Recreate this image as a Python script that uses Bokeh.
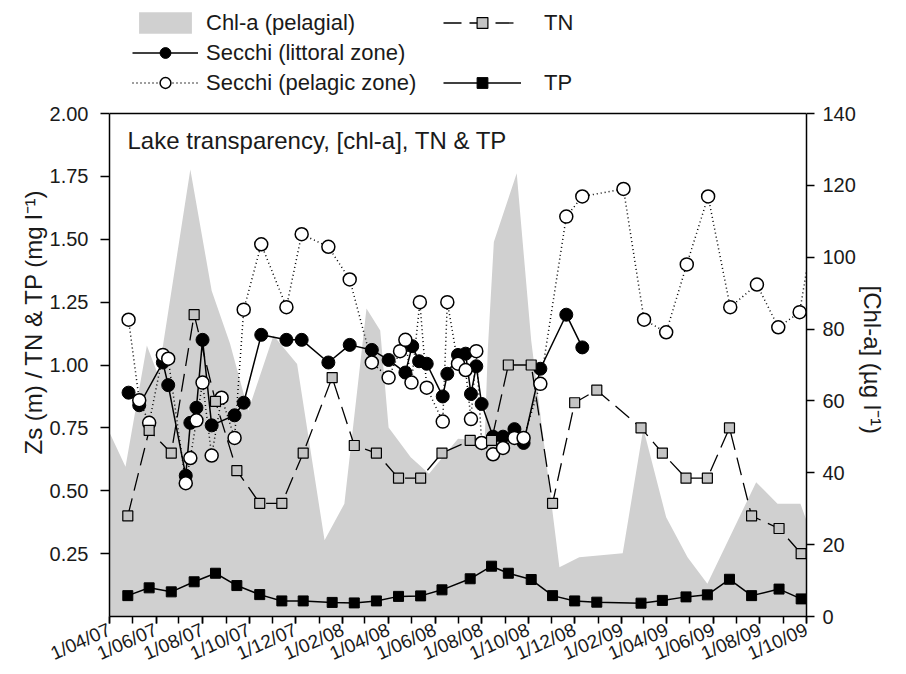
import pandas as pd
from bokeh.plotting import figure
from bokeh.models import (Range1d, LinearAxis, FixedTicker, NumeralTickFormatter,
                          Legend, LegendItem, Label, Span, Title)
from bokeh.embed import file_html
from bokeh.resources import INLINE

FONT = "Liberation Sans"

# ---------------- data ----------------
chl_dates = ["2007-04-01", "2007-04-22", "2007-05-20", "2007-06-04", "2007-07-16", "2007-08-13",
             "2007-09-06", "2007-09-30", "2007-11-02", "2007-12-03", "2008-01-08", "2008-02-03",
             "2008-03-03", "2008-03-21", "2008-04-01", "2008-04-30", "2008-05-24", "2008-07-01",
             "2008-08-05", "2008-08-09", "2008-08-17", "2008-09-16", "2008-10-05", "2008-11-11",
             "2008-12-07", "2009-02-02", "2009-03-01", "2009-03-31", "2009-04-28", "2009-05-24",
             "2009-07-27", "2009-08-24", "2009-09-23", "2009-10-01"]
chl_vals = [51.2, 41.7, 75.4, 67.1, 124.4, 90.7, 76.0, 57.3, 78.2, 70.3, 21.2, 31.4,
            85.7, 79.6, 52.6, 44.3, 39.7, 49.5, 49.0, 74.0, 104.2, 123.4, 76.8, 13.7,
            16.5, 17.6, 52.3, 27.6, 16.5, 9.1, 37.4, 31.4, 31.4, 26.7]

nut_dates = ["2007-04-25", "2007-05-23", "2007-06-21", "2007-07-21", "2007-08-18", "2007-09-15",
             "2007-10-15", "2007-11-13", "2007-12-11", "2008-01-18", "2008-02-16", "2008-03-16",
             "2008-04-14", "2008-05-13", "2008-06-10", "2008-07-17", "2008-08-14", "2008-09-05",
             "2008-10-05", "2008-11-02", "2008-12-01", "2008-12-30", "2009-02-26", "2009-03-26",
             "2009-04-26", "2009-05-24", "2009-06-22", "2009-07-21", "2009-08-26", "2009-09-24"]
tn_vals = [0.40, 0.74, 0.65, 1.20, 0.855, 0.58, 0.45, 0.45, 0.65, 0.95, 0.68, 0.65,
           0.55, 0.55, 0.65, 0.70, 0.70, 1.00, 1.00, 0.45, 0.85, 0.90, 0.75, 0.65,
           0.55, 0.55, 0.75, 0.40, 0.35, 0.25]
tp_vals = [0.083, 0.114, 0.098, 0.138, 0.172, 0.123, 0.087, 0.062, 0.062, 0.056, 0.054, 0.062,
           0.080, 0.082, 0.106, 0.150, 0.200, 0.172, 0.147, 0.083, 0.062, 0.057, 0.053, 0.064,
           0.078, 0.086, 0.148, 0.083, 0.109, 0.070]

lit_dates = ["2007-04-26", "2007-05-10", "2007-06-10", "2007-06-17", "2007-07-10", "2007-07-16",
             "2007-07-24", "2007-08-01", "2007-08-13", "2007-09-12", "2007-09-24", "2007-10-17",
             "2007-11-19", "2007-12-09", "2008-01-13", "2008-02-10", "2008-03-10", "2008-04-01",
             "2008-04-23", "2008-05-02", "2008-05-11", "2008-05-21", "2008-06-11", "2008-06-17",
             "2008-07-01", "2008-07-11", "2008-07-18", "2008-07-25", "2008-08-01", "2008-08-16",
             "2008-08-29", "2008-09-13", "2008-09-25", "2008-10-17", "2008-11-20", "2008-12-11"]
lit_vals = [0.89, 0.84, 1.01, 0.92, 0.56, 0.77, 0.83, 1.10, 0.76, 0.80, 0.85, 1.12,
            1.10, 1.10, 1.01, 1.08, 1.06, 1.02, 0.97, 1.075, 1.015, 1.005, 0.875, 0.965,
            1.04, 1.045, 0.885, 0.995, 0.845, 0.715, 0.715, 0.745, 0.69, 0.985, 1.20, 1.07]

pel_dates = ["2007-04-26", "2007-05-10", "2007-05-23", "2007-06-10", "2007-06-17", "2007-07-10",
             "2007-07-16", "2007-07-24", "2007-08-01", "2007-08-13", "2007-08-26", "2007-09-12",
             "2007-09-24", "2007-10-17", "2007-11-19", "2007-12-09", "2008-01-13", "2008-02-10",
             "2008-03-10", "2008-04-01", "2008-04-16", "2008-04-23", "2008-05-01", "2008-05-12",
             "2008-05-21", "2008-06-11", "2008-06-17", "2008-07-01", "2008-07-11", "2008-07-18",
             "2008-07-25", "2008-08-01", "2008-08-16", "2008-08-29", "2008-09-13", "2008-09-25",
             "2008-10-17", "2008-11-20", "2008-12-11", "2009-02-03", "2009-03-02", "2009-03-31",
             "2009-04-27", "2009-05-25", "2009-06-23", "2009-07-28", "2009-08-25", "2009-09-22",
             "2009-10-20"]
pel_vals = [1.18, 0.86, 0.77, 1.04, 1.025, 0.53, 0.63, 0.78, 0.93, 0.64, 0.87, 0.71,
            1.22, 1.48, 1.23, 1.52, 1.47, 1.34, 1.01, 0.95, 1.055, 1.10, 0.93, 1.25,
            0.91, 0.775, 1.25, 1.005, 0.98, 0.785, 1.055, 0.69, 0.645, 0.67, 0.71, 0.71,
            0.925, 1.59, 1.67, 1.70, 1.18, 1.13, 1.40, 1.67, 1.23, 1.32, 1.15, 1.21,
            1.72]

x_start, x_end = "2007-04-01", "2009-10-01"
month_ticks = pd.date_range(x_start, x_end, freq="MS").strftime("%Y-%m-%d").tolist()
label_ticks = month_ticks[::2]
x_tick_labels = ["1/04/07", "1/06/07", "1/08/07", "1/10/07", "1/12/07", "1/02/08", "1/04/08",
                 "1/06/08", "1/08/08", "1/10/08", "1/12/08", "1/02/09", "1/04/09", "1/06/09",
                 "1/08/09", "1/10/09"]
left_ticks = [0.25, 0.50, 0.75, 1.00, 1.25, 1.50, 1.75, 2.00]
right_ticks = [0, 20, 40, 60, 80, 100, 120, 140]
left_max, right_max = 2.0, 140
left_label = "Zs (m) / TN & TP (mg l\u207b\u00b9)"
right_label = "[Chl-a] (\u00b5g l\u207b\u00b9)"


def ms(dates):
    return [int(pd.Timestamp(d).value // 10**6) for d in dates]


# ---------------- layout constants ----------------
PLOT_H = 503          # height of the axes box in px
TOP_SPACE = 113       # legend space above the axes box (inside the frame)
stretch = (PLOT_H + TOP_SPACE) / PLOT_H

p = figure(frame_width=697, frame_height=PLOT_H + TOP_SPACE, x_axis_type="datetime",
           x_range=Range1d(ms([x_start])[0], ms([x_end])[0]),
           y_range=Range1d(0, left_max * stretch),
           output_backend="svg", toolbar_location=None,
           min_border_left=109, min_border_right=100, min_border_top=0, min_border_bottom=58,
           background_fill_color="white", border_fill_color="white")
p.extra_y_ranges = {"chl": Range1d(0, right_max * stretch)}
p.xgrid.grid_line_color = None
p.ygrid.grid_line_color = None
p.outline_line_color = None

GREY = "#d0d0d0"

chl_area = p.varea(x=ms(chl_dates), y1=0, y2=chl_vals, y_range_name="chl", fill_color=GREY)

nx = ms(nut_dates)
tn_line = p.line(nx, tn_vals, line_color="black", line_width=1.3, line_dash="18 8")
tp_line = p.line(nx, tp_vals, line_color="black", line_width=1.5)
lit_line = p.line(ms(lit_dates), lit_vals, line_color="black", line_width=1.5)
pel_line = p.line(ms(pel_dates), pel_vals, line_color="black", line_width=1.5, line_dash="1 3")
lit_pts = p.scatter(ms(lit_dates), lit_vals, marker="circle", size=13,
                    fill_color="black", line_color="black", line_width=1)
pel_pts = p.scatter(ms(pel_dates), pel_vals, marker="circle", size=13,
                    fill_color="white", line_color="black", line_width=1.5)
tn_pts = p.scatter(nx, tn_vals, marker="square", size=10, fill_color="#c4c4c4",
                   line_color="black", line_width=1.2)
tp_pts = p.scatter(nx, tp_vals, marker="square", size=10, fill_color="black",
                   line_color="black", line_width=1)
blank = p.line(x=[], y=[], line_alpha=0)

# top edge of the axes box
p.add_layout(Span(location=left_max, dimension="width", line_color="black", line_width=1.5))

# ---------------- axes ----------------
xa = p.xaxis[0]
xa.ticker = FixedTicker(ticks=ms(label_ticks), minor_ticks=ms(month_ticks))
xa.major_label_overrides = dict(zip(ms(label_ticks), x_tick_labels))
xa.major_label_orientation = 0.42
xa.major_tick_in = 0
xa.major_tick_out = 7
xa.minor_tick_in = 0
xa.minor_tick_out = 7

ya = p.yaxis[0]
ya.ticker = FixedTicker(ticks=left_ticks)
ya.formatter = NumeralTickFormatter(format="0.00")
ya.major_tick_in = 0
ya.major_tick_out = 9
ya.bounds = (0, left_max)

ra = LinearAxis(y_range_name="chl", ticker=FixedTicker(ticks=right_ticks))
ra.major_tick_in = 0
ra.major_tick_out = 8
ra.bounds = (0, right_max)
p.add_layout(ra, "right")

for ax in [xa, ya, ra]:
    ax.axis_line_color = "black"
    ax.axis_line_width = 1.5
    ax.major_tick_line_color = "black"
    ax.major_tick_line_width = 1.5
    ax.minor_tick_line_width = 1.5
    ax.major_label_text_font = FONT
    ax.major_label_text_font_size = "20px"
    ax.major_label_text_color = "#1a1a1a"

xa.major_label_text_font_size = "19px"
ya.minor_tick_line_color = None
ra.minor_tick_line_color = None
ya.major_label_standoff = 12
ra.major_label_standoff = 8
xa.major_label_standoff = 5

# axis titles placed along the axes box (not the whole frame)
title_style = dict(text_font=FONT, text_font_size="24px", text_font_style="normal",
                   text_color="#1a1a1a", align="left", standoff=0)
p.add_layout(Title(text=left_label, offset=162, **title_style), "left")
p.add_layout(Title(text=right_label, offset=285, **title_style), "right")

# ---------------- title inside ----------------
p.add_layout(Label(x=18, y=PLOT_H - 27, x_units="screen", y_units="screen",
                   text="Lake transparency, [chl-a], TN & TP", text_font=FONT,
                   text_font_size="24px", text_baseline="middle", text_color="#1a1a1a"))

# ---------------- legends (above the axes box) ----------------
common = dict(orientation="vertical", glyph_height=27, label_height=27, spacing=3,
              padding=0, margin=0, border_line_color=None, background_fill_alpha=0,
              label_text_font=FONT, label_text_font_size="22px", label_text_color="#1a1a1a")
leg1 = Legend(items=[LegendItem(label="Chl-a (pelagial)", renderers=[chl_area]),
                     LegendItem(label="Secchi (littoral zone)", renderers=[lit_line, lit_pts]),
                     LegendItem(label="Secchi (pelagic zone)", renderers=[pel_line, pel_pts])],
              location=(23, PLOT_H + 17), glyph_width=66, label_standoff=8, **common)
leg2 = Legend(items=[LegendItem(label="TN", renderers=[tn_line, tn_pts]),
                     LegendItem(label=" ", renderers=[blank]),
                     LegendItem(label="TP", renderers=[tp_line, tp_pts])],
              location=(334, PLOT_H + 17), glyph_width=78, label_standoff=23, **common)
p.add_layout(leg1)
p.add_layout(leg2)

open("out.html", "w").write(file_html(p, INLINE))
